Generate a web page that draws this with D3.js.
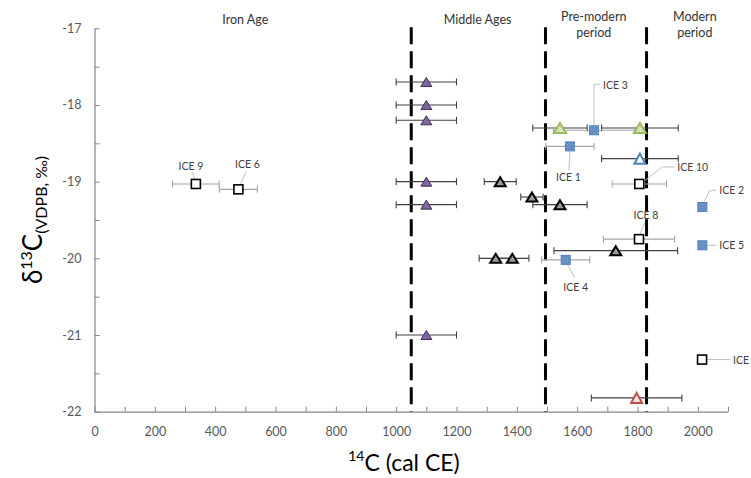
<!DOCTYPE html>
<html>
<head>
<meta charset="utf-8">
<script src="https://cdn.jsdelivr.net/npm/d3@7"></script>
<style>
  body { margin: 0; background: #fff; }
  svg { display: block; font-family: Lato, "Open Sans", sans-serif; }
</style>
</head>
<body>
<svg id="chart" width="751" height="478"></svg>
<script>
// Radiocarbon age (cal CE) against bone-collagen δ13C, with period boundaries.

const xTickValues = [0, 200, 400, 600, 800, 1000, 1200, 1400, 1600, 1800, 2000];
const yTickValues = [-17, -18, -19, -20, -21, -22];
const periodBreaks = [1050, 1495, 1830];
const periodNames = [["Iron Age"], ["Middle Ages"], ["Pre-modern", "period"], ["Modern", "period"]];
const periodLabelDates = [500, 1270, 1655, 1990];

// Reference group: Middle Ages (purple triangles)
const medievalDate = [1100, 1100, 1100, 1100, 1100, 1100];
const medievalErr  = [100, 100, 100, 100, 100, 100];
const medievalD13C = [-17.7, -18.0, -18.2, -19.0, -19.3, -21.0];

// Reference group: grey triangles
const greyDate = [1345, 1450, 1543, 1330, 1385, 1728];
const greyErr  = [53, 37, 90, 55, 55, 205];
const greyD13C = [-19.0, -19.2, -19.3, -20.0, -20.0, -19.9];

// Reference group: green triangles
const greenDate = [1543, 1808];
const greenErr  = [90, 127];
const greenD13C = [-18.3, -18.3];

// Reference group: open blue triangle
const blueTriDate = [1808];
const blueTriErr  = [127];
const blueTriD13C = [-18.7];

// Reference group: red triangle
const redTriDate = [1797];
const redTriErr  = [150];
const redTriD13C = [-21.82];

// ICE samples, filled blue squares
const iceBlueNames = ["ICE 3", "ICE 1", "ICE 2", "ICE 5", "ICE 4"];
const iceBlueDate  = [1656, 1576, 2015, 2015, 1562];
const iceBlueErr   = [135, 80, 0, 0, 80];
const iceBlueD13C  = [-18.33, -18.54, -19.33, -19.83, -20.02];

// ICE samples, open black squares
const iceOpenNames = ["ICE 9", "ICE 6", "ICE 10", "ICE 8", "ICE 7"];
const iceOpenDate  = [336, 477, 1806, 1805, 2014];
const iceOpenErr   = [77, 63, 90, 118, 0];
const iceOpenD13C  = [-19.03, -19.10, -19.03, -19.75, -21.32];

// Callout placement for each ICE label, relative to its marker
const callouts = {
  "ICE 9":  { t: [-5, -18, "middle"], leader: [[-1, -5], [-4, -12]] },
  "ICE 6":  { t: [9, -25, "middle"],  leader: [[2, -5], [8, -18]] },
  "ICE 3":  { t: [9, -45, "start"],   leader: [[0, -5], [0, -46], [6, -46]] },
  "ICE 1":  { t: [-1.5, 31, "middle"],leader: [[0, 5], [-1, 24]] },
  "ICE 10": { t: [38, -17, "start"],  leader: [[5, -3], [23, -17], [35, -17]] },
  "ICE 8":  { t: [7, -24, "middle"],  leader: [[1, -5], [6, -17]] },
  "ICE 2":  { t: [17, -17, "start"],  leader: [[2, -6], [7, -16], [14, -17]] },
  "ICE 5":  { t: [17, 0, "start"],    leader: [[5, 0], [14, 0]] },
  "ICE 4":  { t: [10, 27, "middle"],  leader: [[2, 5], [9, 18]] },
  "ICE 7":  { t: [31, 0, "start"],    leader: [[5, 0], [28, 0]] }
};

const svg = d3.select("#chart");
const margin = { left: 94.5, right: 23, top: 28.3, bottom: 66.3 };
const W = 751, H = 478;

const x = d3.scaleLinear().domain([0, 2100]).range([margin.left, W - margin.right]);
const y = d3.scaleLinear().domain([-22, -17]).range([H - margin.bottom, margin.top]);

// fill patterns
const defs = svg.append("defs");
function dots(id, bg, dot) {
  const p = defs.append("pattern").attr("id", id)
    .attr("width", 3).attr("height", 3).attr("patternUnits", "userSpaceOnUse");
  p.append("rect").attr("width", 3).attr("height", 3).attr("fill", bg);
  p.append("rect").attr("width", 1.2).attr("height", 1.2).attr("fill", dot);
  p.append("rect").attr("x", 1.5).attr("y", 1.5).attr("width", 1.2).attr("height", 1.2).attr("fill", dot);
}
dots("blueDots", "#4f81bd", "#95b3d7");
dots("greyDots", "#7f7f7f", "#d9d9d9");
dots("greenDots", "#c3d69b", "#ffffff");
dots("redDots", "#ffffff", "#e6b9b8");

// axes
const axisColor = "#868686";
const xAxis = d3.axisBottom(x).tickValues(d3.range(0, 2101, 100))
  .tickSizeInner(-5).tickSizeOuter(0).tickPadding(15)
  .tickFormat(d => xTickValues.includes(d) ? d : "");
const gx = svg.append("g").attr("transform", `translate(0,${y(-22)})`).call(xAxis);

const yAxis = d3.axisLeft(y).tickValues(d3.range(-22, -16.9, 0.5))
  .tickSizeInner(-5).tickSizeOuter(0).tickPadding(13)
  .tickFormat(d => yTickValues.includes(d) ? d : "");
const gy = svg.append("g").attr("transform", `translate(${x(0)},0)`).call(yAxis);

[gx, gy].forEach(g => {
  g.select(".domain").attr("stroke", axisColor).attr("stroke-width", 1.2);
  g.selectAll(".tick line").attr("stroke", axisColor);
  g.selectAll(".tick text").attr("fill", "#595959").attr("font-size", 12.5)
    .attr("font-family", "Lato, sans-serif");
});

// period boundaries
svg.append("g").selectAll("line").data(periodBreaks).join("line")
  .attr("x1", d => x(d)).attr("x2", d => x(d))
  .attr("y1", y(-17) - 1).attr("y2", y(-22))
  .attr("stroke", "#000").attr("stroke-width", 3)
  .attr("stroke-dasharray", "17,7");

// period names
const pl = svg.append("g").attr("font-size", 12.5).attr("fill", "#333").attr("text-anchor", "middle");
periodNames.forEach((lines, i) => {
  const t = pl.append("text").attr("x", x(periodLabelDates[i]));
  lines.forEach((s, j) => {
    const yy = lines.length === 1 ? 19 : 16 + 16 * j;
    t.append("tspan").attr("x", x(periodLabelDates[i])).attr("y", yy)
      .attr("dominant-baseline", "central").text(s);
  });
});

// error bars
function errorBars(dates, errs, vals, color) {
  const g = svg.append("g").attr("stroke", color).attr("stroke-width", 1.1).attr("fill", "none");
  dates.forEach((d, i) => {
    if (!errs[i]) return;
    const yy = y(vals[i]);
    const x0 = x(d - errs[i]), x1 = x(d + errs[i]);
    g.append("line").attr("x1", x0).attr("x2", x1).attr("y1", yy).attr("y2", yy);
    g.append("line").attr("x1", x0).attr("x2", x0).attr("y1", yy - 3.5).attr("y2", yy + 3.5);
    g.append("line").attr("x1", x1).attr("x2", x1).attr("y1", yy - 3.5).attr("y2", yy + 3.5);
  });
}

const tri = (w, h) => `M0,${-h / 2}L${w / 2},${h / 2}L${-w / 2},${h / 2}Z`;

function triangles(dates, vals, fill, stroke, sw, w, h) {
  svg.append("g").selectAll("path").data(dates).join("path")
    .attr("transform", (d, i) => `translate(${x(d)},${y(vals[i])})`)
    .attr("d", tri(w, h)).attr("fill", fill).attr("stroke", stroke)
    .attr("stroke-width", sw).attr("stroke-linejoin", "miter");
}

function squares(dates, vals, fill, stroke, sw, s) {
  svg.append("g").selectAll("rect").data(dates).join("rect")
    .attr("x", (d) => x(d) - s / 2)
    .attr("y", (d, i) => y(vals[i]) - s / 2)
    .attr("width", s).attr("height", s)
    .attr("fill", fill).attr("stroke", stroke).attr("stroke-width", sw);
}

// error bars first, then markers on top
errorBars(medievalDate, medievalErr, medievalD13C, "#404040");
errorBars(greyDate, greyErr, greyD13C, "#404040");
errorBars(greenDate, greenErr, greenD13C, "#404040");
errorBars(blueTriDate, blueTriErr, blueTriD13C, "#404040");
errorBars(redTriDate, redTriErr, redTriD13C, "#404040");
errorBars(iceBlueDate, iceBlueErr, iceBlueD13C, "#a6a6a6");
errorBars(iceOpenDate, iceOpenErr, iceOpenD13C, "#a6a6a6");

// callout leaders and labels
const cg = svg.append("g");
function labelIce(names, dates, vals) {
  names.forEach((n, i) => {
    const c = callouts[n];
    const px = x(dates[i]), py = y(vals[i]);
    cg.append("path")
      .attr("d", d3.line()(c.leader.map(p => [px + p[0], py + p[1]])))
      .attr("fill", "none").attr("stroke", "#bfbfbf").attr("stroke-width", 1);
    cg.append("text").attr("x", px + c.t[0]).attr("y", py + c.t[1])
      .attr("text-anchor", c.t[2]).attr("dominant-baseline", "central")
      .attr("font-size", 10.5).attr("fill", "#404040").text(n);
  });
}
labelIce(iceBlueNames, iceBlueDate, iceBlueD13C);
labelIce(iceOpenNames, iceOpenDate, iceOpenD13C);

triangles(medievalDate, medievalD13C, "#8064a2", "#3f3151", 1, 11, 9);
triangles(greyDate, greyD13C, "url(#greyDots)", "#000", 2, 11, 9);
triangles(greenDate, greenD13C, "url(#greenDots)", "#9bbb59", 2, 12, 10);
triangles(blueTriDate, blueTriD13C, "#fff", "#4f81bd", 2, 11, 10);
triangles(redTriDate, redTriD13C, "url(#redDots)", "#c0504d", 2, 11, 10);
squares(iceBlueDate, iceBlueD13C, "url(#blueDots)", "#4f81bd", 1, 9);
squares(iceOpenDate, iceOpenD13C, "#fff", "#000", 1.6, 9);

// axis titles
const yt = svg.append("text")
  .attr("transform", `translate(42,${(y(-17) + y(-22)) / 2}) rotate(-90)`)
  .attr("text-anchor", "middle").attr("fill", "#000").attr("font-size", 26);
yt.append("tspan").text("δ");
yt.append("tspan").attr("font-size", 16).attr("dy", -10).text("13");
yt.append("tspan").attr("dy", 10).text("C");
yt.append("tspan").attr("font-size", 16).attr("dy", 5).text("(VDPB, ‰)");

const xt = svg.append("text")
  .attr("x", 404).attr("y", 471)
  .attr("text-anchor", "middle").attr("fill", "#000").attr("font-size", 23);
xt.append("tspan").attr("font-size", 14).attr("dy", -10).text("14");
xt.append("tspan").attr("dy", 10).text("C (cal CE)");
</script>
</body>
</html>
